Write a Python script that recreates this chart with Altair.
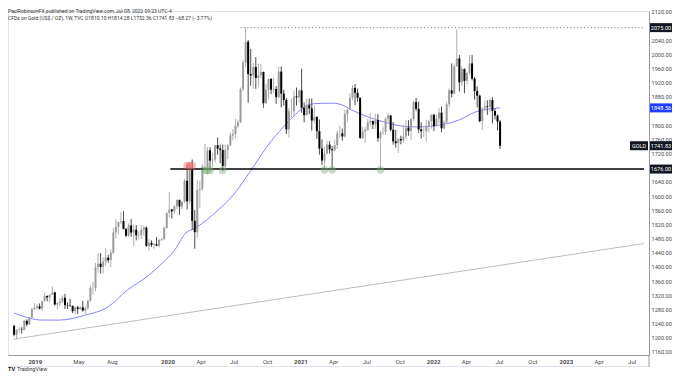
import altair as alt
import pandas as pd

# ---------------- data (weekly candles, TVC:GOLD) ----------------
first_week = "2018-11-05"

opens = [
    1233, 1209, 1222, 1223, 1222, 1248, 1238, 1257, 1281,
    1285, 1289, 1282, 1304, 1318, 1314, 1322, 1328, 1294, 1298, 1302, 1313,
    1292, 1291, 1290, 1275, 1286, 1281, 1286, 1277, 1284, 1305, 1341, 1341, 1399,
    1409, 1400, 1415, 1426, 1419, 1440, 1497, 1513, 1527, 1529, 1507, 1488, 1517, 1497,
    1505, 1489, 1490, 1505, 1511, 1459, 1468, 1462, 1464, 1460, 1476, 1478, 1510,
    1552, 1562, 1557, 1571, 1589, 1570, 1584, 1643, 1585, 1673, 1530, 1498, 1617,
    1620, 1683, 1683, 1729, 1700, 1703, 1743, 1734, 1730, 1685, 1730, 1743, 1771,
    1775, 1798, 1808, 1902, 1976, 2035, 1944, 1940, 1964, 1933, 1941, 1950, 1862,
    1900, 1930, 1900, 1902, 1879, 1951, 1889, 1871, 1788, 1839, 1839, 1881, 1878,
    1898, 1849, 1828, 1856, 1847, 1813, 1823, 1783, 1734, 1700, 1720, 1745, 1732,
    1729, 1744, 1777, 1777, 1768, 1831, 1844, 1877, 1905, 1891, 1877, 1764, 1782,
    1787, 1808, 1812, 1802, 1814, 1763, 1780, 1781, 1818, 1827, 1787, 1754, 1749,
    1761, 1757, 1768, 1793, 1783, 1818, 1865, 1846, 1788, 1783, 1783, 1798, 1811,
    1829, 1797, 1818, 1835, 1791, 1808, 1859, 1898, 1889, 1966, 1988, 1921, 1958,
    1925, 1947, 1974, 1931, 1896, 1883, 1811, 1846, 1853, 1851, 1871, 1840, 1827,
    1810.10,
]
highs = [
    1237, 1225, 1230, 1230, 1250, 1252, 1260, 1284, 1298,
    1295, 1297, 1304, 1326, 1320, 1323, 1346, 1330, 1300, 1311, 1320, 1324,
    1300, 1310, 1291, 1288, 1290, 1290, 1304, 1288, 1307, 1348, 1358, 1411, 1439,
    1439, 1427, 1453, 1434, 1449, 1510, 1535, 1527, 1555, 1557, 1510, 1523, 1535,
    1519, 1518, 1500, 1518, 1517, 1514, 1478, 1475, 1468, 1484, 1479, 1482, 1514,
    1553, 1611, 1564, 1575, 1590, 1590, 1585, 1649, 1689, 1692, 1703, 1560, 1645,
    1643, 1690, 1747, 1738, 1738, 1722, 1744, 1765, 1745, 1745, 1745, 1746, 1779,
    1789, 1818, 1815, 1906, 1984, 2075, 2040, 2015, 1976, 1992, 1973, 1973, 1951,
    1917, 1931, 1933, 1933, 1910, 1965, 1966, 1900, 1876, 1848, 1875, 1897, 1906,
    1900, 1959, 1864, 1875, 1875, 1875, 1855, 1825, 1816, 1760, 1740, 1755, 1755,
    1741, 1759, 1784, 1798, 1790, 1843, 1845, 1890, 1913, 1916, 1903, 1878, 1795,
    1795, 1818, 1834, 1812, 1832, 1832, 1784, 1795, 1823, 1834, 1829, 1809, 1787,
    1764, 1770, 1801, 1814, 1814, 1818, 1868, 1877, 1866, 1808, 1793, 1815, 1815,
    1831, 1832, 1830, 1848, 1853, 1814, 1865, 1903, 1974, 1974, 2070, 1998, 1966,
    1960, 1949, 1998, 1998, 1936, 1909, 1886, 1850, 1870, 1870, 1875, 1879, 1847,
    1830, 1814.28,
]
lows = [
    1204, 1196, 1215, 1212, 1221, 1233, 1236, 1256, 1278,
    1280, 1280, 1276, 1302, 1303, 1300, 1321, 1291, 1280, 1289, 1298, 1281,
    1281, 1287, 1270, 1266, 1267, 1279, 1274, 1267, 1278, 1302, 1323, 1331, 1383,
    1381, 1381, 1403, 1412, 1400, 1437, 1480, 1492, 1520, 1506, 1484, 1484, 1485,
    1459, 1475, 1478, 1480, 1487, 1456, 1445, 1456, 1451, 1458, 1455, 1473, 1477,
    1508, 1540, 1536, 1548, 1563, 1547, 1562, 1580, 1562, 1576, 1505, 1451, 1482,
    1567, 1615, 1675, 1660, 1672, 1682, 1694, 1717, 1693, 1670, 1680, 1704, 1741,
    1757, 1763, 1792, 1806, 1895, 1963, 1863, 1911, 1902, 1902, 1906, 1932, 1849,
    1860, 1873, 1887, 1891, 1860, 1877, 1850, 1855, 1775, 1765, 1823, 1822, 1855,
    1863, 1835, 1808, 1826, 1831, 1785, 1806, 1761, 1717, 1687, 1677, 1718, 1720,
    1678, 1726, 1733, 1763, 1756, 1765, 1808, 1843, 1870, 1856, 1866, 1761, 1761,
    1750, 1783, 1795, 1789, 1790, 1753, 1677, 1772, 1773, 1808, 1782, 1745, 1737,
    1721, 1746, 1750, 1760, 1770, 1759, 1812, 1840, 1778, 1762, 1766, 1753, 1780,
    1790, 1783, 1796, 1805, 1780, 1788, 1806, 1850, 1878, 1887, 1964, 1895, 1910,
    1890, 1915, 1941, 1926, 1872, 1850, 1808, 1786, 1841, 1829, 1836, 1805, 1816,
    1785, 1732.36,
]
closes = [
    1209, 1222, 1223, 1222, 1248, 1238, 1257, 1281, 1285,
    1289, 1282, 1304, 1318, 1314, 1322, 1328, 1294, 1298, 1302, 1313, 1292,
    1291, 1290, 1275, 1286, 1281, 1286, 1277, 1284, 1305, 1341, 1341, 1399, 1409,
    1400, 1415, 1426, 1419, 1440, 1497, 1513, 1527, 1529, 1507, 1488, 1517, 1497,
    1505, 1489, 1490, 1505, 1511, 1459, 1468, 1462, 1464, 1460, 1476, 1478, 1510,
    1552, 1562, 1557, 1571, 1589, 1570, 1584, 1643, 1585, 1673, 1530, 1498, 1617,
    1620, 1683, 1683, 1729, 1700, 1703, 1743, 1734, 1730, 1685, 1730, 1743, 1771,
    1775, 1798, 1808, 1902, 1976, 2035, 1944, 1940, 1964, 1933, 1941, 1950, 1862,
    1900, 1930, 1900, 1902, 1879, 1951, 1889, 1871, 1788, 1839, 1839, 1881, 1878,
    1898, 1849, 1828, 1856, 1847, 1813, 1823, 1783, 1734, 1700, 1720, 1745, 1732,
    1729, 1744, 1777, 1777, 1768, 1831, 1844, 1877, 1905, 1891, 1877, 1764, 1782,
    1787, 1808, 1812, 1802, 1814, 1763, 1780, 1781, 1818, 1827, 1787, 1754, 1749,
    1761, 1757, 1768, 1793, 1783, 1818, 1865, 1846, 1788, 1783, 1783, 1798, 1811,
    1829, 1797, 1818, 1835, 1791, 1808, 1859, 1898, 1889, 1966, 1988, 1921, 1958,
    1925, 1947, 1974, 1931, 1896, 1883, 1811, 1846, 1853, 1851, 1871, 1840, 1827,
    1810, 1741.83,
]

# moving average
ma_dates = ["2018-11-05", "2019-01-22", "2019-03-09", "2019-05-20", "2019-07-21",
            "2019-09-13", "2019-11-05", "2019-12-21", "2020-01-17", "2020-02-21",
            "2020-03-18", "2020-05-19", "2020-07-04", "2020-08-18", "2020-09-30",
            "2020-11-15", "2020-12-11", "2021-01-07", "2021-02-03", "2021-03-29",
            "2021-04-25", "2021-05-21", "2021-07-06", "2021-08-18", "2021-10-02",
            "2021-11-17", "2022-01-18", "2022-03-12", "2022-04-27", "2022-06-01",
            "2022-07-04"]
ma_values = [1270, 1250, 1250, 1264, 1287, 1335, 1372, 1414, 1442, 1496,
             1510, 1560, 1608, 1673, 1738, 1795, 1823, 1848, 1860, 1862,
             1857, 1843, 1823, 1809, 1798, 1795, 1800, 1814, 1837, 1845,
             1848.56]

# long-term trend line
trend_dates = ["2018-11-02", "2023-08-04"]
trend_values = [1196, 1466]

# horizontal levels
support_level = 1676.00
support_from, support_to = "2020-01-09", "2023-08-04"
resistance_level = 2075.00
resistance_from, resistance_to = "2020-07-20", "2023-08-04"

# highlighted touches
touch_dates = ["2020-02-24", "2020-03-02", "2020-03-09",
               "2020-04-13", "2020-04-20", "2020-04-27", "2020-06-01",
               "2021-03-08", "2021-03-29", "2021-08-09"]
touch_prices = [1686, 1686, 1686, 1673, 1673, 1673, 1673, 1674, 1674, 1674]
touch_kind = ["high"] * 3 + ["low"] * 7

# price tags on the right scale
tag_prices = [2075.00, 1848.56, 1741.83, 1676.00]
tag_texts = ["2075.00", "1848.56", "1741.83", "1676.00"]
tag_colors = ["#131722", "#1f3dff", "#131722", "#131722"]

price_ticks = [2120, 2040, 2000, 1960, 1920, 1880, 1800, 1760, 1720, 1640, 1600,
               1560, 1520, 1480, 1440, 1400, 1360, 1320, 1280, 1240, 1200, 1160]
time_ticks = [(2019, 1), (2019, 5), (2019, 8), (2020, 1), (2020, 4), (2020, 7),
              (2020, 10), (2021, 1), (2021, 4), (2021, 7), (2021, 10), (2022, 1),
              (2022, 4), (2022, 7), (2022, 10), (2023, 1), (2023, 4), (2023, 7)]

header1 = "PaulRobinsonFX published on TradingView.com, Jul 08, 2022 09:23 UTC-4"
header2 = "CFDs on Gold (US$ / OZ), 1W, TVC  O1810.10 H1814.28 L1732.36 C1741.83 \u221268.27 (\u22123.77%)"

# ---------------- frames ----------------
dates = pd.date_range(first_week, periods=len(closes), freq="7D")
candles = pd.DataFrame({"date": dates, "open": opens, "high": highs,
                        "low": lows, "close": closes})
ma = pd.DataFrame({"date": pd.to_datetime(ma_dates), "value": ma_values})
trend = pd.DataFrame({"date": pd.to_datetime(trend_dates), "value": trend_values})
levels = pd.DataFrame({
    "start": pd.to_datetime([support_from, resistance_from]),
    "end": pd.to_datetime([support_to, resistance_to]),
    "price": [support_level, resistance_level],
    "kind": ["support", "resistance"],
})
touches = pd.DataFrame({"date": pd.to_datetime(touch_dates), "price": touch_prices,
                        "kind": touch_kind})
tags = pd.DataFrame({"price": tag_prices, "text": tag_texts, "bg": tag_colors})

FONT = "Roboto"
W, H = 641, 344

xscale = alt.Scale(domain=[alt.DateTime(year=2018, month=11, date=2),
                           alt.DateTime(year=2023, month=8, date=4)])
yscale = alt.Scale(domain=[1151.5, 2121.9], nice=False, zero=False)

x_axis = alt.Axis(
    values=[alt.DateTime(year=y, month=m, date=1) for y, m in time_ticks],
    labelExpr="month(datum.value) == 0 ? timeFormat(datum.value, '%Y') : timeFormat(datum.value, '%b')",
    labelFontWeight={"condition": {"test": "month(datum.value) == 0", "value": "bold"},
                     "value": "normal"},
    labelFontSize=6, labelColor="#4a4a4a", labelFont=FONT, labelPadding=3,
    ticks=False, grid=False, domainColor="#9598a1", title=None, labelOverlap=False,
)
y_axis = alt.Axis(
    orient="right", values=price_ticks, format=".2f",
    labelFontSize=5.6, labelColor="#4a4a4a", labelFont=FONT, labelPadding=2,
    ticks=False, grid=False, domainColor="#9598a1", title=None, labelOverlap=False,
)

X = lambda f: alt.X(f, scale=xscale, axis=x_axis)
Y = lambda f: alt.Y(f, scale=yscale, axis=y_axis)

up = "datum.close >= datum.open"

trend_line = alt.Chart(trend).mark_line(color="#bcbcbc", strokeWidth=1).encode(
    x=X("date:T"), y=Y("value:Q"))

ma_line = alt.Chart(ma).mark_line(color="#8585f7", strokeWidth=1,
                                  interpolate="monotone").encode(
    x=X("date:T"), y=Y("value:Q"))

wicks = alt.Chart(candles).mark_rule(strokeWidth=1).encode(
    x=X("date:T"), y=Y("low:Q"), y2="high:Q",
    color=alt.condition(up, alt.value("#b0b0b0"), alt.value("#4a4a4a")))

bodies = alt.Chart(candles).mark_bar(size=2).encode(
    x=X("date:T"), y=Y("open:Q"), y2="close:Q",
    color=alt.condition(up, alt.value("#9c9c9c"), alt.value("#000000")))

support = alt.Chart(levels).transform_filter("datum.kind == 'support'").mark_rule(
    color="#000000", strokeWidth=1.5).encode(x=X("start:T"), x2="end:T", y=Y("price:Q"))

resistance = alt.Chart(levels).transform_filter("datum.kind == 'resistance'").mark_rule(
    color="#8a8a8a", strokeWidth=1, strokeDash=[1.2, 2.2]).encode(
    x=X("start:T"), x2="end:T", y=Y("price:Q"))

circles = alt.Chart(touches).mark_circle(size=60, opacity=0.42).encode(
    x=X("date:T"), y=Y("price:Q"),
    color=alt.Color("kind:N", scale=alt.Scale(domain=["high", "low"],
                                              range=["#e86a6a", "#78ab78"]), legend=None))

tag_boxes = alt.Chart(tags).mark_rule(strokeWidth=9, strokeCap="butt").encode(
    x=alt.value(W + 1), x2=alt.value(W + 23), y=Y("price:Q"),
    color=alt.Color("bg:N", scale=None))

tag_text = alt.Chart(tags).mark_text(color="white", fontSize=5.6, font=FONT,
                                     align="center", baseline="middle").encode(
    x=alt.value(W + 12), y=Y("price:Q"), text="text:N")

gold_df = pd.DataFrame({"price": [1741.83], "text": ["GOLD"]})
gold_box = alt.Chart(gold_df).mark_rule(strokeWidth=9, strokeCap="butt",
                                        color="#131722").encode(
    x=alt.value(W - 19), x2=alt.value(W - 1), y=Y("price:Q"))
gold_text = alt.Chart(gold_df).mark_text(color="white", fontSize=5.5, font=FONT,
                                         align="center", baseline="middle").encode(
    x=alt.value(W - 10), y=Y("price:Q"), text="text:N")

hdr = pd.DataFrame({"t": [header1, header2], "yy": [0, 6.5]})
header = alt.Chart(hdr).mark_text(fontSize=5, font=FONT, color="#333333",
                                  align="left", baseline="middle").encode(
    x=alt.value(0), y=alt.Y("yy:Q", scale=None), text="t:N")

foot = pd.DataFrame({"t": ["TV", "TradingView"], "xx": [0, 9], "w": ["bold", "normal"]})
footer_logo = alt.Chart(foot).transform_filter("datum.w == 'bold'").mark_text(
    fontSize=5.5, font=FONT, fontWeight="bold", color="#131722", align="left",
    baseline="middle").encode(x=alt.X("xx:Q", scale=None), y=alt.value(358), text="t:N")
footer_text = alt.Chart(foot).transform_filter("datum.w == 'normal'").mark_text(
    fontSize=5.5, font=FONT, color="#333333", align="left", baseline="middle").encode(
    x=alt.X("xx:Q", scale=None), y=alt.value(358), text="t:N")

frame_df = pd.DataFrame({"a": [0]})
bottom_edge = alt.Chart(frame_df).mark_rule(color="#e0e3eb", strokeWidth=1).encode(
    x=alt.value(0), x2=alt.value(W), y=alt.value(355.5))
sep_edge = alt.Chart(frame_df).mark_rule(color="#9598a1", strokeWidth=1).encode(
    x=alt.value(W), y=alt.value(H), y2=alt.value(356))

chart = alt.layer(
    trend_line, ma_line, wicks, bodies, support, resistance, circles,
    tag_boxes, tag_text, gold_box, gold_text, header, footer_logo, footer_text,
    bottom_edge, sep_edge,
).properties(
    width=W, height=H,
    autosize=alt.AutoSizeParams(type="none"),
    padding={"left": 0, "top": 3, "right": 23, "bottom": 17},
    background="white",
).configure_view(stroke="#e0e3eb")

chart.save("out.html", embed_options={"renderer": "svg", "actions": False})
